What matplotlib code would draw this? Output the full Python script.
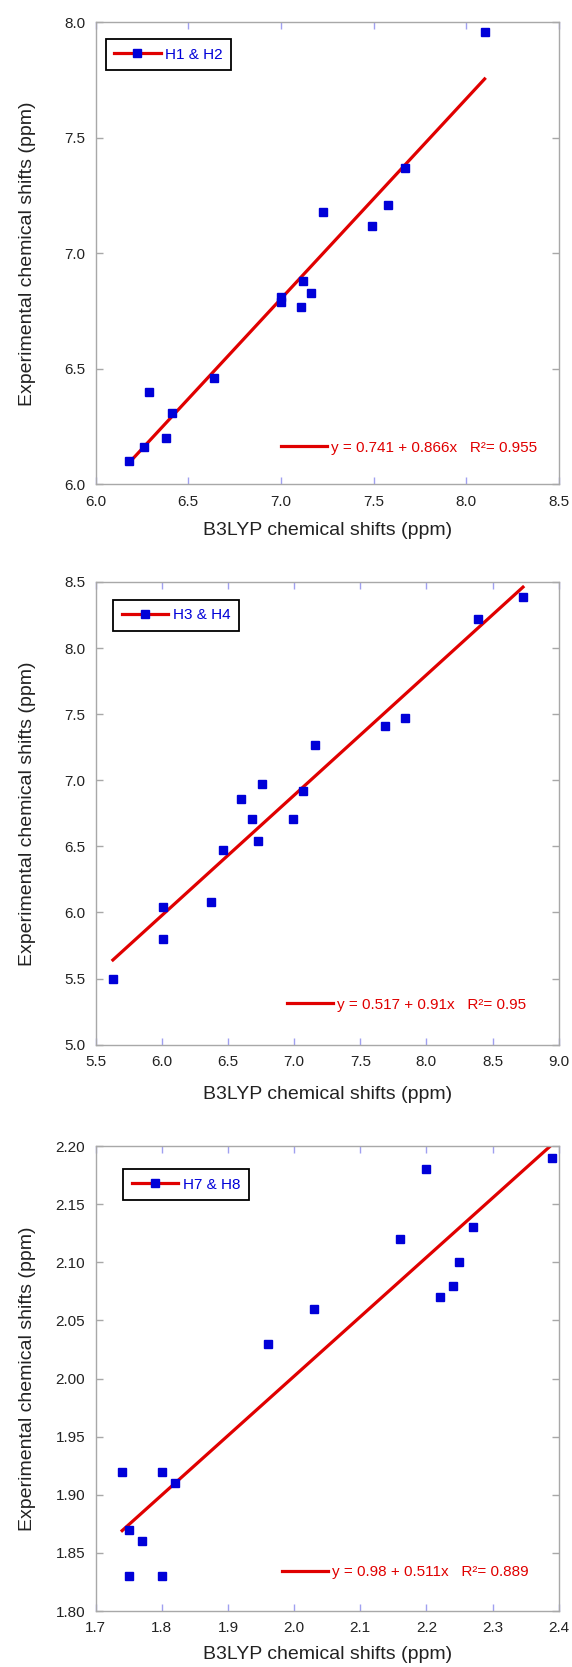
import matplotlib
matplotlib.use('Agg')
import matplotlib.pyplot as plt
from matplotlib.lines import Line2D
import numpy as np

plt.rcParams['font.family'] = ['Liberation Sans', 'DejaVu Sans']

# ---- data ----
h12_calc = [6.18, 6.26, 6.29, 6.38, 6.41, 6.64, 7.00, 7.00, 7.11, 7.12, 7.16, 7.23, 7.49, 7.58, 7.67, 8.10]
h12_exp  = [6.10, 6.16, 6.40, 6.20, 6.31, 6.46, 6.81, 6.79, 6.77, 6.88, 6.83, 7.18, 7.12, 7.21, 7.37, 7.96]

h34_calc = [5.63, 6.01, 6.01, 6.37, 6.46, 6.60, 6.68, 6.73, 6.76, 6.99, 7.07, 7.16, 7.69, 7.84, 8.39, 8.73]
h34_exp  = [5.50, 6.04, 5.80, 6.08, 6.47, 6.86, 6.71, 6.54, 6.97, 6.71, 6.92, 7.27, 7.41, 7.47, 8.22, 8.39]

h78_calc = [1.74, 1.75, 1.75, 1.77, 1.80, 1.80, 1.82, 1.96, 2.03, 2.16, 2.20, 2.22, 2.24, 2.25, 2.27, 2.39]
h78_exp  = [1.92, 1.87, 1.83, 1.86, 1.92, 1.83, 1.91, 2.03, 2.06, 2.12, 2.18, 2.07, 2.08, 2.10, 2.13, 2.19]

series_labels = ['H1 & H2', 'H3 & H4', 'H7 & H8']
fit_intercepts = [0.741, 0.517, 0.98]
fit_slopes = [0.866, 0.91, 0.511]
fit_texts = ['y = 0.741 + 0.866x   R\u00b2= 0.955',
             'y = 0.517 + 0.91x   R\u00b2= 0.95',
             'y = 0.98 + 0.511x   R\u00b2= 0.889']

x_ticks = [[6.0, 6.5, 7.0, 7.5, 8.0, 8.5],
           [5.5, 6.0, 6.5, 7.0, 7.5, 8.0, 8.5, 9.0],
           [1.7, 1.8, 1.9, 2.0, 2.1, 2.2, 2.3, 2.4]]
y_ticks = [[6.0, 6.5, 7.0, 7.5, 8.0],
           [5.0, 5.5, 6.0, 6.5, 7.0, 7.5, 8.0, 8.5],
           [1.80, 1.85, 1.90, 1.95, 2.00, 2.05, 2.10, 2.15, 2.20]]
x_fmt = ['%.1f', '%.1f', '%.1f']
y_fmt = ['%.1f', '%.1f', '%.2f']

xs = [h12_calc, h34_calc, h78_calc]
ys = [h12_exp, h34_exp, h78_exp]

# ---- style ----
W, H = 572, 1667
fig = plt.figure(figsize=(W / 100, H / 100), dpi=100)

axes_px = [  # left, top, right, bottom in pixels
    (95.7, 22.5, 558.7, 484.3),
    (95.7, 582.0, 558.7, 1044.6),
    (95.7, 1146.0, 558.7, 1611.0),
]
leg_pos = [(0.0216, 0.964), (0.038, 0.961), (0.060, 0.950)]
fit_pos = [(0.9525, 0.079), (0.929, 0.086), (0.935, 0.084)]
xlabel_y = [-0.082, -0.090, -0.076]

RED = '#e00000'
BLUE = '#0000d8'
SPINE = '#a8a8a8'
XTICK = '#a0a0f0'
TXT = '#222222'

for i in range(3):
    l, t, r, b = axes_px[i]
    ax = fig.add_axes([l / W, 1 - b / H, (r - l) / W, (b - t) / H])
    x = np.array(xs[i])
    y = np.array(ys[i])
    ax.plot(x, y, linestyle='none', marker='s', ms=6.0, mfc=BLUE, mec=BLUE, zorder=3)
    xf = np.array([x.min(), x.max()])
    ax.plot(xf, fit_intercepts[i] + fit_slopes[i] * xf, color=RED, lw=2.3, zorder=2)

    ax.set_xlim(x_ticks[i][0], x_ticks[i][-1])
    ax.set_ylim(y_ticks[i][0], y_ticks[i][-1])
    ax.set_xticks(x_ticks[i])
    ax.set_yticks(y_ticks[i])
    ax.set_xticklabels([x_fmt[i] % v for v in x_ticks[i]])
    ax.set_yticklabels([y_fmt[i] % v for v in y_ticks[i]])
    for s in ax.spines.values():
        s.set_color(SPINE)
        s.set_linewidth(1.0)
    ax.tick_params(axis='x', direction='in', top=True, bottom=True, length=5,
                   width=1, color=XTICK, labelsize=11, pad=7.5, labelcolor=TXT)
    ax.tick_params(axis='y', direction='in', left=True, right=True, length=5,
                   width=1, color=SPINE, labelsize=11, pad=7.5, labelcolor=TXT)
    ax.set_xlabel('B3LYP chemical shifts (ppm)', fontsize=14, color=TXT)
    ax.set_ylabel('Experimental chemical shifts (ppm)', fontsize=14, color=TXT)
    ax.xaxis.set_label_coords(0.5, xlabel_y[i])
    ax.yaxis.set_label_coords(-0.129, 0.5)

    h = Line2D([], [], color=RED, lw=2.3, marker='s', ms=6.0, mfc=BLUE, mec=BLUE)
    leg = ax.legend([h], [series_labels[i]], loc='upper left', bbox_to_anchor=leg_pos[i],
                    borderaxespad=0, frameon=True, fancybox=False, edgecolor='black',
                    framealpha=1, fontsize=11, labelcolor=BLUE, handlelength=3.05,
                    handletextpad=0.28, borderpad=0.55)
    leg.get_frame().set_linewidth(1.3)
    ax.add_artist(leg)

    hf = Line2D([], [], color=RED, lw=2.3)
    ax.legend([hf], [fit_texts[i]], loc='center right', bbox_to_anchor=fit_pos[i],
              borderaxespad=0, borderpad=0, frameon=False, fontsize=11,
              labelcolor=RED, handlelength=3.0, handletextpad=0.26)

fig.savefig('out.png', dpi=100)
